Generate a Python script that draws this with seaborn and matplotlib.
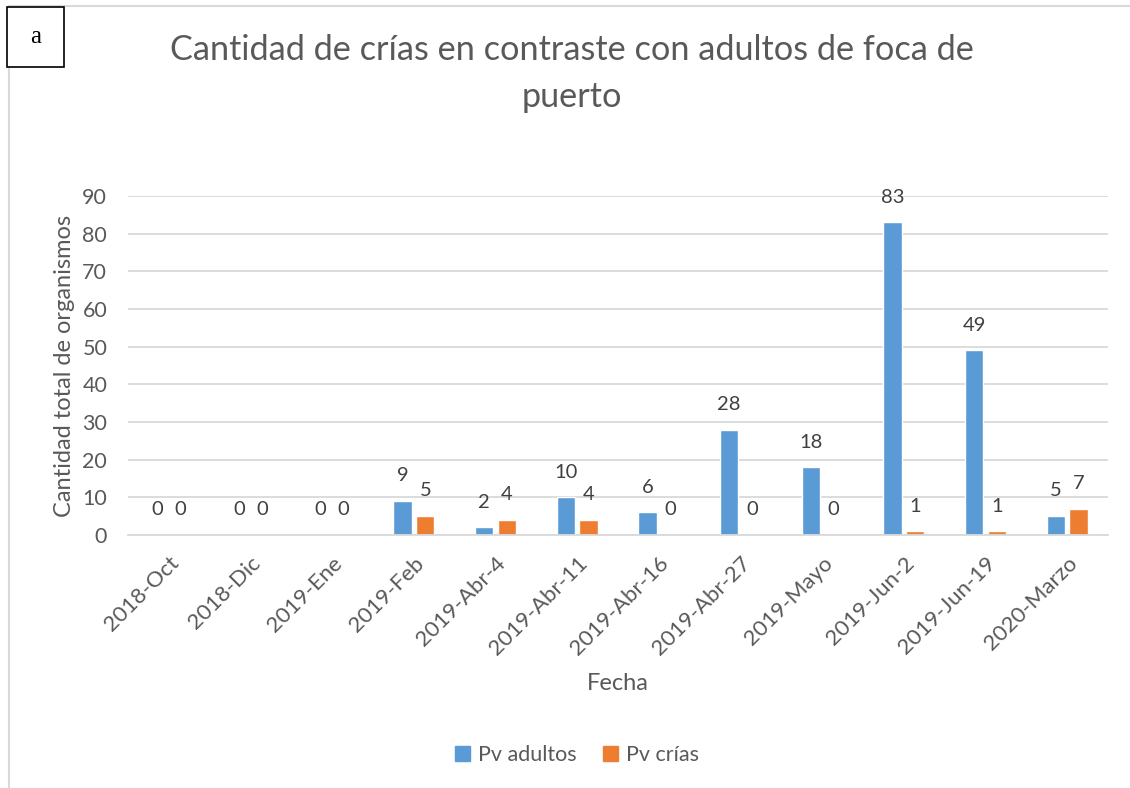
import matplotlib
matplotlib.use("Agg")
import matplotlib.pyplot as plt
import seaborn as sns
import pandas as pd
from matplotlib.patches import Rectangle
from matplotlib.lines import Line2D

categories = ["2018-Oct", "2018-Dic", "2019-Ene", "2019-Feb", "2019-Abr-4", "2019-Abr-11",
              "2019-Abr-16", "2019-Abr-27", "2019-Mayo", "2019-Jun-2", "2019-Jun-19", "2020-Marzo"]
adultos = [0, 0, 0, 9, 2, 10, 6, 28, 18, 83, 49, 5]
crias = [0, 0, 0, 5, 4, 4, 0, 0, 0, 1, 1, 7]
series_names = ["Pv adultos", "Pv crías"]
yticks = [0, 10, 20, 30, 40, 50, 60, 70, 80, 90]

df = pd.DataFrame({
    "Fecha": categories * 2,
    "valor": adultos + crias,
    "serie": [series_names[0]] * len(categories) + [series_names[1]] * len(categories),
})

sns.set_theme(style="white")
plt.rcParams["font.family"] = ["Lato", "DejaVu Sans"]

text_gray = "#595959"
label_gray = "#404040"
grid_gray = "#D9D9D9"
palette = {series_names[0]: "#5B9BD5", series_names[1]: "#ED7D31"}

fig = plt.figure(figsize=(11.3, 7.88), dpi=100)
ax = fig.add_axes([128 / 1130, 1 - 535 / 788, (1108 - 128) / 1130, (535 - 196) / 788])

sns.barplot(data=df, x="Fecha", y="valor", hue="serie", palette=palette,
            width=0.56, gap=0.2, order=categories, hue_order=series_names,
            saturation=1, ax=ax, legend=False)

ax.set_ylim(0, 90)
ax.set_xlim(-0.5, len(categories) - 0.5)
ax.set_yticks(yticks)
ax.yaxis.grid(True, color=grid_gray, linewidth=1.3)
ax.set_axisbelow(True)
for s in ["top", "right", "left"]:
    ax.spines[s].set_visible(False)
ax.spines["bottom"].set_color(grid_gray)
ax.spines["bottom"].set_linewidth(1.3)
ax.tick_params(axis="both", length=0, colors=text_gray)
ax.tick_params(axis="y", pad=15, labelsize=15.5)
ax.tick_params(axis="x", pad=13, labelsize=16)
plt.setp(ax.get_xticklabels(), rotation=45, ha="right", rotation_mode="anchor")

for cont in ax.containers:
    ax.bar_label(cont, padding=12, fontsize=14.5, color=label_gray)

ax.set_xlabel("Fecha", fontsize=17, color=text_gray, labelpad=10)
ax.set_ylabel("Cantidad total de organismos", fontsize=17, color=text_gray, labelpad=5)

fig.text(572 / 1130, 1 - 50 / 788, "Cantidad de crías en contraste con adultos de foca de",
         ha="center", va="center", fontsize=24.7, color=text_gray)
fig.text(572 / 1130, 1 - 97 / 788, "puerto",
         ha="center", va="center", fontsize=24.7, color=text_gray)

handles = [Rectangle((0, 0), 1, 1, color=palette[n]) for n in series_names]
fig.legend(handles, series_names, loc="center", bbox_to_anchor=(577 / 1130, 1 - 755 / 788),
           ncol=2, frameon=False, fontsize=15.5, labelcolor=text_gray,
           handlelength=0.7, handleheight=0.7, handletextpad=0.4, columnspacing=1.2)

# outer chart frame (left and top edges) and panel tag box
fig.add_artist(Line2D([9 / 1130, 9 / 1130], [0, 1 - 6 / 788], transform=fig.transFigure,
                      color="#D9D9D9", linewidth=1.5, zorder=1))
fig.add_artist(Line2D([9 / 1130, 1], [1 - 6 / 788, 1 - 6 / 788], transform=fig.transFigure,
                      color="#D9D9D9", linewidth=1.5, zorder=1))
fig.add_artist(Rectangle((7 / 1130, 1 - 67 / 788), 57 / 1130, 60 / 788, transform=fig.transFigure,
                         facecolor="white", edgecolor="black", linewidth=1.2, zorder=5))
fig.text(36 / 1130, 1 - 37 / 788, "a", ha="center", va="center", fontsize=18,
         family=["Liberation Serif", "DejaVu Serif"], color="black", zorder=6)

fig.savefig("out.png", dpi=100, facecolor="white")
